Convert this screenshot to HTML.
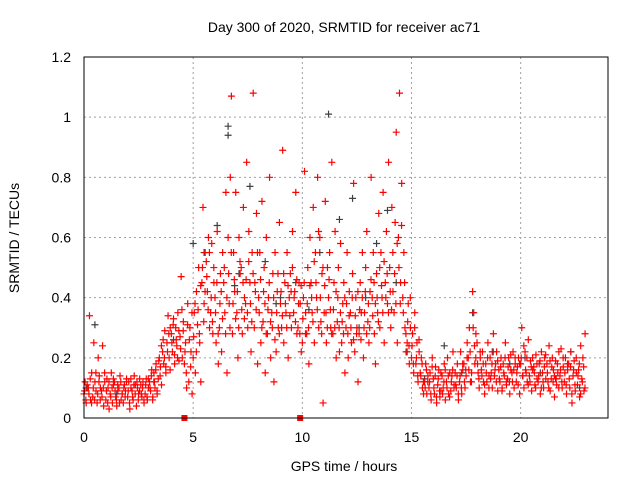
<!DOCTYPE html>
<html><head><meta charset="utf-8"><style>
html,body{margin:0;padding:0;background:#fff;}
svg{display:block;font-family:"Liberation Sans",sans-serif;}
</style></head><body>
<svg id="chart" width="640" height="480" viewBox="0 0 640 480">
  <rect x="0" y="0" width="640" height="480" fill="#fff"/>
  <text x="344" y="32" font-size="14" text-anchor="middle" fill="#000">Day 300 of 2020, SRMTID for receiver ac71</text>
  <text x="0" y="0" font-size="14" text-anchor="middle" transform="translate(19,238) rotate(-90)">SRMTID / TECUs</text>
  <text x="344" y="471" font-size="14" text-anchor="middle">GPS time / hours</text>
  <g id="grid"></g>
  <g id="ticks"></g>
  <g id="gray"></g>
  <g id="red"></g>
  <rect x="84" y="57" width="524" height="361" fill="none" stroke="#000" stroke-width="1"/>
</svg>
<script>
const xTicks = [0, 5, 10, 15, 20];
const yTicks = [0, 0.2, 0.4, 0.6, 0.8, 1, 1.2];
const yTickLabels = ["0", "0.2", "0.4", "0.6", "0.8", "1", "1.2"];
const redTimes = [0,0.2,0.4,0.6,0.8,1.0,1.2,1.4,1.6,1.8,2.0,2.2,2.4,2.6,2.8,3.0,3.2,3.4,3.6,3.8,4.0,4.2,4.4,4.6,4.8,5.0,5.2,5.4,5.6,5.8,6.0,6.2,6.4,6.6,6.8,7.0,7.2,7.4,7.6,7.8,8.0,8.2,8.4,8.6,8.8,9.0,9.2,9.4,9.6,9.8,10.0,10.2,10.4,10.6,10.8,11.0,11.2,11.4,11.6,11.8,12.0,12.2,12.4,12.6,12.8,13.0,13.2,13.4,13.6,13.8,14.0,14.2,14.4,14.6,14.8,15.0,15.2,15.4,15.6,15.8,16.0,16.2,16.4,16.6,16.8,17.0,17.2,17.4,17.6,17.8,18.0,18.2,18.4,18.6,18.8,19.0,19.2,19.4,19.6,19.8,20.0,20.2,20.4,20.6,20.8,21.0,21.2,21.4,21.6,21.8,22.0,22.2,22.4,22.6,22.8];
const redValues = [
[.08,.12,.05,.10],[.10,.34,.06,.15],[.07,.25,.12,.09],[.05,.20,.14,.10],[.09,.24,.04,.12],
[.06,.13,.10,.03],[.08,.15,.05,.11],[.12,.07,.04,.09],[.10,.14,.06,.08],[.05,.11,.09,.13],
[.07,.12,.03,.10],[.09,.06,.14,.11],[.04,.10,.08,.13],[.11,.07,.12,.05],[.08,.13,.06,.10],
[.12,.09,.16,.07],[.15,.10,.18,.08],[.13,.20,.17,.11],[.22,.18,.29,.15],[.25,.34,.20,.30],
[.28,.22,.33,.18],[.30,.24,.35,.19],[.27,.47,.20,.32],[.18,.25,.10,.38],[.12,.30,.22,.08],
[.20,.35,.15,.42],[.31,.50,.25,.12],[.45,.70,.38,.55],[.52,.42,.60,.30],[.35,.58,.28,.45],
[.40,.25,.62,.18],[.30,.48,.22,.55],[.45,.35,.75,.15],[.60,.38,.80,1.07],[.28,.55,.42,.75],
[.35,.20,.60,.48],[.50,.28,.70,.40],[.38,.85,.30,.62],[.45,.22,.55,1.08],[.30,.42,.68,.18],
[.40,.55,.25,.72],[.32,.50,.15,.60],[.28,.40,.80,.20],[.35,.48,.12,.55],[.22,.42,.30,.65],
[.38,.30,.89,.25],[.45,.35,.55,.20],[.40,.48,.30,.62],[.35,.42,.75,.28],[.30,.45,.38,.22],
[.25,.40,.82,.35],[.28,.50,.18,.60],[.45,.35,.70,.25],[.55,.40,.80,.30],[.60,.32,.48,.05],
[.35,.72,.25,.50],[.40,.55,.30,.85],[.28,.45,.62,.20],[.32,.50,.22,.58],[.25,.38,.45,.15],
[.30,.55,.20,.42],[.35,.25,.48,.78],[.22,.40,.30,.12],[.28,.45,.35,.55],[.20,.35,.50,.62],
[.32,.25,.42,.80],[.40,.55,.28,.18],[.48,.35,.68,.30],[.55,.40,.75,.25],[.45,.62,.38,.85],
[.50,.30,.70,.42],[.35,.65,.95,.25],[.60,1.08,.45,.78],[.40,.55,.30,.22],[.25,.38,.18,.30],
[.20,.28,.15,.35],[.18,.25,.12,.22],[.15,.20,.10,.08],[.12,.18,.08,.14],[.10,.15,.06,.20],
[.13,.08,.17,.05],[.11,.16,.07,.09],[.14,.10,.18,.06],[.12,.20,.08,.15],[.09,.14,.22,.11],
[.15,.10,.18,.06],[.12,.22,.08,.16],[.18,.10,.14,.25],[.20,.30,.12,.15],[.42,.35,.18,.28],
[.25,.15,.10,.20],[.16,.22,.12,.08],[.18,.12,.25,.14],[.20,.15,.10,.28],[.14,.18,.22,.09],
[.16,.12,.20,.10],[.18,.14,.25,.11],[.13,.20,.08,.16],[.15,.22,.10,.18],[.12,.17,.20,.08],
[.18,.30,.14,.10],[.22,.15,.12,.26],[.14,.19,.09,.16],[.17,.11,.21,.13],[.12,.18,.08,.22],
[.15,.10,.20,.13],[.18,.12,.24,.09],[.13,.20,.16,.07],[.19,.11,.15,.22],[.14,.23,.10,.17],
[.12,.20,.08,.16],[.18,.10,.22,.05],[.14,.19,.09,.15],[.11,.16,.07,.24],[.13,.20,.09,.28]
];
const redValuesB = [
[.09,.06,.11],[.08,.13,.05],[.10,.06,.15],[.08,.12,.06],[.07,.10,.15],
[.09,.05,.12],[.07,.10,.13],[.09,.06,.11],[.05,.12,.08],[.10,.07,.12],
[.09,.05,.13],[.07,.11,.08],[.12,.06,.09],[.08,.10,.06],[.11,.07,.13],
[.10,.14,.06],[.12,.16,.09],[.19,.14,.24],[.26,.20,.17],[.22,.28,.16],
[.25,.31,.21],[.26,.20,.29],[.23,.36,.29],[.22,.15,.31],[.26,.17,.35],
[.27,.38,.22],[.36,.28,.44],[.50,.32,.42],[.47,.36,.55],[.40,.32,.50],
[.35,.45,.28],[.38,.42,.33],[.50,.28,.40],[.48,.30,.55],[.38,.46,.33],
[.42,.30,.52],[.36,.45,.33],[.46,.35,.52],[.38,.32,.48],[.45,.36,.55],
[.35,.46,.30],[.42,.38,.28],[.36,.45,.32],[.30,.40,.26],[.35,.48,.28],
[.42,.34,.48],[.38,.30,.44],[.34,.42,.50],[.40,.32,.46],[.38,.28,.44],
[.33,.45,.28],[.38,.30,.44],[.40,.32,.52],[.45,.36,.62],[.40,.28,.50],
[.44,.35,.30],[.46,.36,.28],[.36,.30,.42],[.40,.30,.35],[.32,.28,.40],
[.38,.28,.34],[.30,.40,.26],[.34,.28,.42],[.36,.26,.40],[.30,.42,.28],
[.38,.30,.46],[.34,.45,.38],[.40,.32,.50],[.44,.35,.52],[.40,.48,.35],
[.42,.36,.55],[.48,.38,.58],[.50,.38,.64],[.35,.45,.28],[.32,.24,.40],
[.24,.18,.30],[.20,.14,.26],[.14,.18,.12],[.10,.16,.12],[.12,.08,.17],
[.10,.14,.07],[.13,.09,.15],[.08,.12,.16],[.10,.14,.07],[.12,.16,.10],
[.11,.14,.08],[.14,.10,.18],[.12,.16,.20],[.16,.22,.12],[.30,.24,.20],
[.18,.13,.22],[.14,.18,.11],[.15,.20,.10],[.13,.18,.22],[.16,.12,.19],
[.13,.17,.09],[.15,.20,.12],[.17,.12,.21],[.12,.16,.20],[.15,.11,.18],
[.20,.14,.24],[.16,.20,.11],[.12,.17,.20],[.15,.10,.18],[.14,.19,.10],
[.12,.17,.21],[.15,.10,.19],[.17,.12,.14],[.13,.18,.10],[.16,.12,.20],
[.15,.11,.18],[.13,.17,.08],[.16,.11,.20],[.14,.18,.08],[.12,.17,.10]
];
const grayTimes = [0.1,0.5,1.5,3.2,4.1,5.0,5.5,6.1,6.6,6.6,7.1,7.6,8.3,9.0,9.7,10.3,10.8,11.2,11.7,12.3,12.9,13.4,13.9,14.3,14.8,15.6,16.5,17.3,17.8,18.7,19.5,20.2,20.9,21.6,22.3,22.7,6.9,8.8,12.6];
const grayValues = [0.10,0.31,0.08,0.12,0.26,0.58,0.55,0.64,0.97,0.94,0.48,0.77,0.52,0.40,0.45,0.36,0.55,1.01,0.66,0.73,0.40,0.58,0.69,0.45,0.22,0.13,0.24,0.15,0.35,0.22,0.18,0.20,0.15,0.13,0.22,0.10,0.44,0.38,0.30];
const redSquares = [4.6, 9.9];

const svgNS = "http://www.w3.org/2000/svg";
const X0 = 84, X1 = 608, Y0 = 418, Y1 = 57;
function xScale(t){ return X0 + (t / 24) * (X1 - X0); }
function yScale(v){ return Y0 - (v / 1.2) * (Y0 - Y1); }
function mk(tag, attrs, parent){ const e = document.createElementNS(svgNS, tag); for (const k in attrs) e.setAttribute(k, attrs[k]); parent.appendChild(e); return e; }

const grid = document.getElementById('grid');
const ticks = document.getElementById('ticks');
yTicks.forEach((v, i) => {
  const y = yScale(v);
  if (i > 0 && i < yTicks.length - 1) {
    const g = mk('line', {x1: X0, x2: X1, y1: y, y2: y, stroke: '#a0a0a0', 'stroke-dasharray': '2,3', 'stroke-width': 1}, grid);
    
    
  }
  const l = mk('text', {x: 71, y: y + 5, 'font-size': 14, 'text-anchor': 'end'}, ticks);
  l.textContent = yTickLabels[i];
  
  
});
xTicks.forEach((t) => {
  const x = xScale(t);
  if (t > 0) {
    const g = mk('line', {x1: x, x2: x, y1: Y1, y2: Y0, stroke: '#a0a0a0', 'stroke-dasharray': '2,3', 'stroke-width': 1}, grid);
    
    
  }
  const l = mk('text', {x: x, y: 442, 'font-size': 14, 'text-anchor': 'middle'}, ticks);
  l.textContent = String(t);
  
  
});

function plus(x, y, color, parent, name){
  const p = mk('path', {d: `M${x-3.5},${y}h7M${x},${y-3.5}v7`, stroke: color, 'stroke-width': 1.2, fill: 'none'}, parent);
  
  
}
const grayG = document.getElementById('gray');
grayTimes.forEach((t, i) => plus(xScale(t), yScale(grayValues[i]), '#404040', grayG, 'gray-point'));
const redG = document.getElementById('red');
redTimes.forEach((t, i) => {
  redValues[i].forEach((v, j) => plus(xScale(t + j * 0.05), yScale(v), '#ff0000', redG, 'red-point'));
  redValuesB[i].forEach((v, j) => plus(xScale(t + 0.025 + j * 0.06), yScale(v), '#ff0000', redG, 'red-point'));
});
redSquares.forEach((t) => {
  const r = mk('rect', {x: xScale(t) - 3, y: Y0 - 3, width: 6, height: 6, fill: '#ff0000'}, redG);
  
  
});
</script>
</body></html>
